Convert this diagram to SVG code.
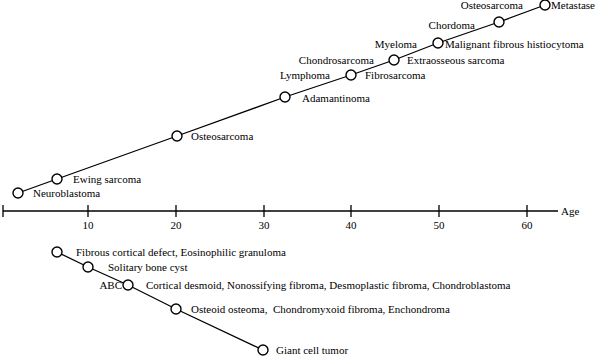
<svg xmlns="http://www.w3.org/2000/svg" width="595" height="358" viewBox="0 0 595 358" font-family="'Liberation Serif', 'Times New Roman', 'DejaVu Serif', serif" font-size="11">
<style>
text{font-family:'Liberation Serif','Times New Roman','DejaVu Serif',serif;font-size:11px;fill:#000}
.n{fill:#fff;stroke:#000;stroke-width:1.4}
.l{fill:none;stroke:#000;stroke-width:1.3}
.e{text-anchor:end}
.m{text-anchor:middle}
</style>
<rect width="595" height="358" fill="#fff"/>
<g id="connectors">
<polyline class="l" points="18,193 57,179 177,136 285,97 351,75 394,60 438,43 499,22 545,5"/>
<polyline class="l" points="57,252 88,267 128,285 176,309 263,350"/>
</g>
<g id="axis">
<line class="l" x1="3" y1="211" x2="558" y2="211"/>
<path class="l" d="M3,205V217M88,205V217M176,205V217M264,205V217M351,205V217M439,205V217M527,205V217"/>
<text class="m" x="88" y="229">10</text>
<text class="m" x="176" y="229">20</text>
<text class="m" x="264" y="229">30</text>
<text class="m" x="351" y="229">40</text>
<text class="m" x="439" y="229">50</text>
<text class="m" x="527" y="229">60</text>
<text x="561" y="215">Age</text>
</g>
<g id="n1"><circle class="n" cx="18" cy="193" r="5"/><text x="33" y="197">Neuroblastoma</text></g>
<g id="n2"><circle class="n" cx="57" cy="179" r="5"/><text x="73" y="183">Ewing sarcoma</text></g>
<g id="n3"><circle class="n" cx="177" cy="136" r="5"/><text x="191" y="140">Osteosarcoma</text></g>
<g id="n4"><circle class="n" cx="285" cy="97" r="5"/><text x="302" y="102">Adamantinoma</text></g>
<g id="n5"><circle class="n" cx="351" cy="75" r="5"/><text x="365" y="79">Fibrosarcoma</text><text class="e" x="330" y="79">Lymphoma</text></g>
<g id="n6"><circle class="n" cx="394" cy="60" r="5"/><text x="407" y="64">Extraosseous sarcoma</text><text class="e" x="374" y="64">Chondrosarcoma</text></g>
<g id="n7"><circle class="n" cx="438" cy="43" r="5"/><text x="445" y="48">Malignant fibrous histiocytoma</text><text class="e" x="417" y="48">Myeloma</text></g>
<g id="n8"><circle class="n" cx="499" cy="22" r="5"/><text class="e" x="475" y="29">Chordoma</text></g>
<g id="n9"><circle class="n" cx="545" cy="5" r="5"/><text x="551" y="9">Metastases</text><text class="e" x="523" y="9">Osteosarcoma</text></g>
<g id="b1"><circle class="n" cx="57" cy="252" r="5"/><text x="76" y="256">Fibrous cortical defect, Eosinophilic granuloma</text></g>
<g id="b2"><circle class="n" cx="88" cy="267" r="5"/><text x="108" y="271">Solitary bone cyst</text></g>
<g id="b3"><circle class="n" cx="128" cy="285" r="5"/><text class="e" x="122" y="289">ABC</text><text x="146" y="289">Cortical desmoid, Nonossifying fibroma, Desmoplastic fibroma, Chondroblastoma</text></g>
<g id="b4"><circle class="n" cx="176" cy="309" r="5"/><text x="191" y="313" xml:space="preserve">Osteoid osteoma,  Chondromyxoid fibroma, Enchondroma</text></g>
<g id="b5"><circle class="n" cx="263" cy="350" r="5"/><text x="276" y="354">Giant cell tumor</text></g>
</svg>
